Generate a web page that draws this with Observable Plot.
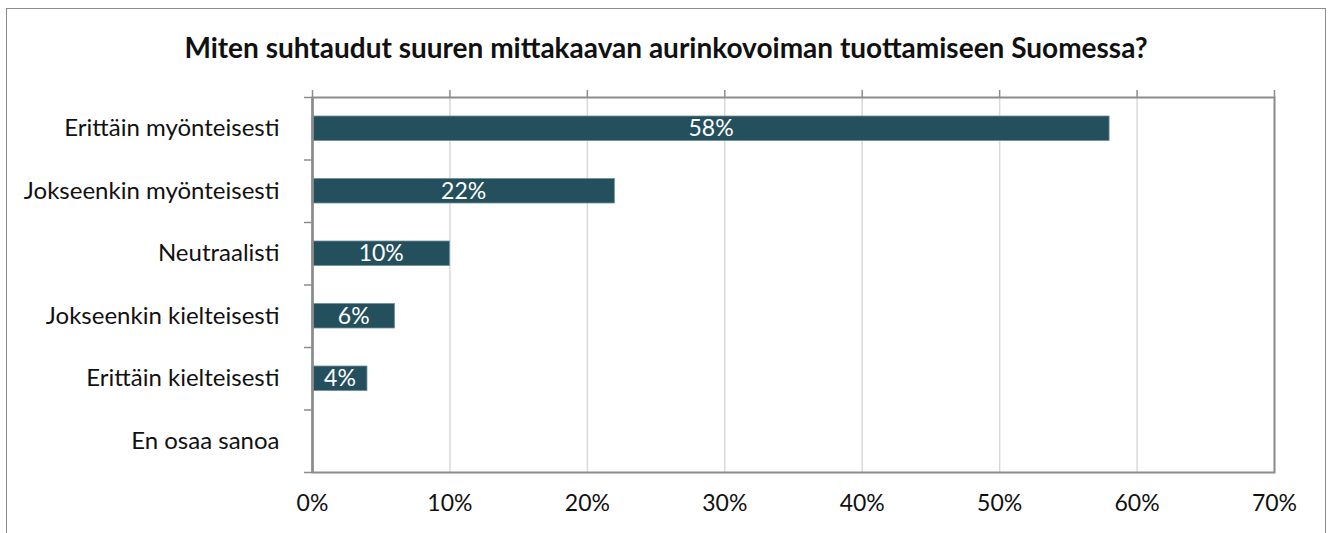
<!DOCTYPE html>
<html>
<head>
<meta charset="utf-8">
<script src="https://cdn.jsdelivr.net/npm/d3@7"></script>
<script src="https://cdn.jsdelivr.net/npm/@observablehq/plot@0.6"></script>
<style>
  html, body { margin: 0; padding: 0; background: #fff; }
  #frame { position: absolute; left: 6px; top: 8px; width: 1320px; height: 560px; border: 1px solid #8c8c8c; box-sizing: border-box; }
  #title { position: absolute; left: 0; top: 0; width: 1332px; height: 80px; text-align: center; font-family: Lato, sans-serif; font-weight: bold; font-size: 28px; line-height: 94px; color: #111; }
  #chart { position: absolute; left: 0; top: 80px; }
</style>
</head>
<body>
<div id="frame"></div>
<div id="title">Miten suhtaudut suuren mittakaavan aurinkovoiman tuottamiseen Suomessa?</div>
<div id="chart"></div>
<script>
const categories = ["Erittäin myönteisesti", "Jokseenkin myönteisesti", "Neutraalisti", "Jokseenkin kielteisesti", "Erittäin kielteisesti", "En osaa sanoa"];
const values = [58, 22, 10, 6, 4, 0];
const xTicks = [0, 10, 20, 30, 40, 50, 60, 70];

const rows = categories.map((c, i) => ({category: c, i, value: values[i]}));
const labelTicks = categories.map((c, i) => i + 0.5);
const boundaryTicks = d3.range(categories.length + 1);

const font = "Lato, sans-serif";
const barColor = "#244f5d";
const axisColor = "#8c8c8c";

const chart = Plot.plot({
  width: 1330,
  height: 453,
  marginTop: 17,
  marginBottom: 61,
  marginLeft: 312,
  marginRight: 56,
  style: {fontFamily: font, fontSize: "20px", color: "#111", background: "transparent"},
  x: {domain: [0, 70]},
  y: {domain: [0, categories.length], reverse: true},
  marks: [
    Plot.gridX(xTicks, {stroke: "#d9d9d9", strokeOpacity: 1, strokeWidth: 1.5}),
    Plot.rectX(rows.filter(d => d.value > 0), {x1: 0, x2: "value", y: "i", interval: 1, insetTop: 19, insetBottom: 19, fill: barColor, stroke: "#6f8e98", strokeWidth: 0.8}),
    Plot.text(rows.filter(d => d.value > 0), {x: d => d.value / 2, y: d => d.i + 0.5, text: d => d.value + "%", fill: "white", fontSize: 23, fontFamily: font}),
    Plot.frame({stroke: axisColor, strokeWidth: 2}),
    Plot.axisX({anchor: "top", ticks: xTicks, tickSize: 8, tickFormat: () => "", label: null, stroke: axisColor, strokeWidth: 1.5}),
    Plot.axisX({anchor: "bottom", ticks: xTicks, tickSize: 0, tickPadding: 22, tickFormat: d => d + "%", label: null, fontSize: 23, fill: "#111"}),
    Plot.axisY({ticks: boundaryTicks, tickSize: 8, tickFormat: () => "", label: null, stroke: axisColor, strokeWidth: 1.5}),
    Plot.axisY({ticks: labelTicks, tickSize: 0, tickPadding: 33, tickFormat: t => categories[Math.floor(t)], label: null, fontSize: 24, fill: "#111"}),
    Plot.ruleX([0], {stroke: axisColor, strokeWidth: 2.5})
  ]
});
document.getElementById("chart").appendChild(chart);
</script>
</body>
</html>
